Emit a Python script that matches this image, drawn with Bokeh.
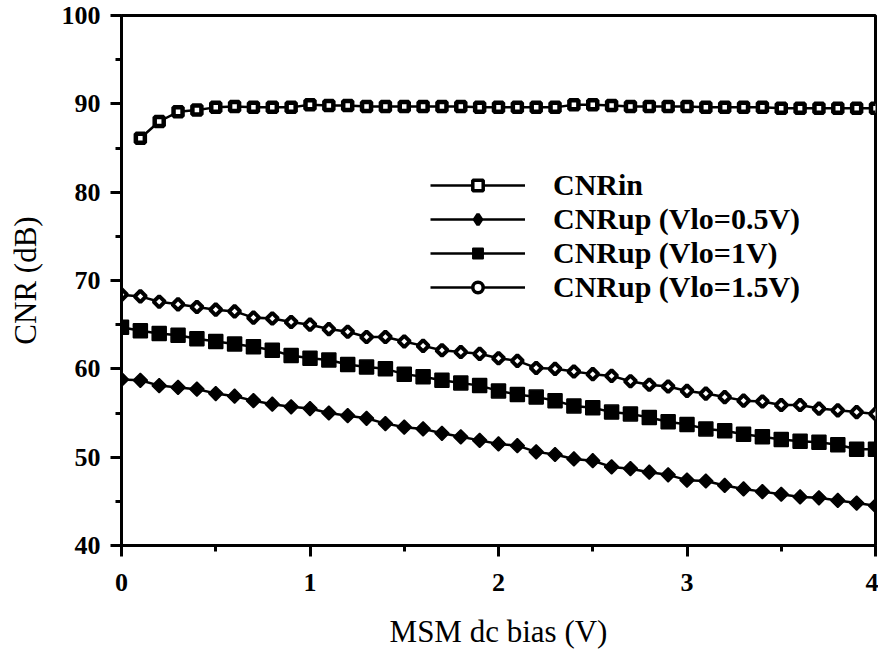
from bokeh.plotting import figure
from bokeh.models import Legend, LegendItem, FixedTicker, Range1d
from bokeh.embed import file_html
from bokeh.resources import INLINE

# ---- data ----
bias = [0.0, 0.1, 0.2, 0.3, 0.4, 0.5, 0.6, 0.7, 0.8, 0.9,
        1.0, 1.1, 1.2, 1.3, 1.4, 1.5, 1.6, 1.7, 1.8, 1.9,
        2.0, 2.1, 2.2, 2.3, 2.4, 2.5, 2.6, 2.7, 2.8, 2.9,
        3.0, 3.1, 3.2, 3.3, 3.4, 3.5, 3.6, 3.7, 3.8, 3.9, 4.0]

bias_in = bias[1:]
cnr_in = [86.1, 88.0, 89.1, 89.3, 89.6, 89.7, 89.6, 89.6, 89.6, 89.9,
          89.8, 89.8, 89.7, 89.7, 89.7, 89.7, 89.7, 89.7, 89.6, 89.6,
          89.6, 89.6, 89.6, 89.9, 89.9, 89.8, 89.7, 89.7, 89.7, 89.7,
          89.6, 89.6, 89.6, 89.6, 89.5, 89.5, 89.5, 89.5, 89.5, 89.5]

cnr_up_05 = [58.8, 58.7, 58.1, 57.9, 57.7, 57.2, 56.9, 56.4, 56.0, 55.7,
             55.5, 55.0, 54.7, 54.4, 53.8, 53.4, 53.2, 52.7, 52.3, 51.9,
             51.5, 51.3, 50.6, 50.3, 49.8, 49.6, 48.9, 48.7, 48.3, 48.0,
             47.4, 47.3, 46.8, 46.4, 46.1, 45.8, 45.5, 45.4, 45.1, 44.8, 44.5]

cnr_up_10 = [64.7, 64.3, 64.0, 63.8, 63.4, 63.1, 62.8, 62.5, 62.1, 61.5,
             61.2, 61.0, 60.5, 60.2, 60.0, 59.4, 59.1, 58.7, 58.4, 58.1,
             57.5, 57.1, 56.8, 56.4, 55.8, 55.6, 55.1, 54.9, 54.5, 54.0,
             53.7, 53.2, 53.0, 52.6, 52.3, 52.0, 51.8, 51.7, 51.4, 50.9, 50.9]

cnr_up_15 = [68.4, 68.2, 67.6, 67.3, 67.0, 66.7, 66.5, 65.8, 65.7, 65.3,
             65.0, 64.5, 64.2, 63.6, 63.6, 63.1, 62.6, 62.1, 61.9, 61.7,
             61.2, 60.9, 60.1, 60.0, 59.7, 59.4, 59.2, 58.6, 58.2, 58.0,
             57.5, 57.2, 56.8, 56.4, 56.3, 55.9, 55.9, 55.5, 55.3, 55.1, 54.9]

labels = ["CNRin", "CNRup (Vlo=0.5V)", "CNRup (Vlo=1V)", "CNRup (Vlo=1.5V)"]
x_ticks = [0, 1, 2, 3, 4]
x_minor = [0.5, 1.5, 2.5, 3.5]
y_ticks = [40, 50, 60, 70, 80, 90, 100]
y_minor = [45, 55, 65, 75, 85, 95]

SERIF = "Liberation Serif"

p = figure(width=878, height=652, x_range=Range1d(0, 4), y_range=Range1d(40, 100),
           output_backend="svg", toolbar_location=None,
           min_border_left=121, min_border_right=3, min_border_top=15, min_border_bottom=107,
           x_axis_label="MSM dc bias (V)", y_axis_label="CNR (dB)")

p.grid.visible = False
p.outline_line_color = "black"
p.outline_line_width = 3
p.background_fill_color = "white"
p.border_fill_color = "white"

p.xaxis.ticker = FixedTicker(ticks=x_ticks, minor_ticks=x_minor)
p.yaxis.ticker = FixedTicker(ticks=y_ticks, minor_ticks=y_minor)
for ax in (p.xaxis[0], p.yaxis[0]):
    ax.axis_line_width = 3
    ax.major_tick_line_width = 3
    ax.minor_tick_line_width = 3
    ax.major_tick_in = 0
    ax.major_tick_out = 11
    ax.minor_tick_in = 0
    ax.minor_tick_out = 6
    ax.major_label_text_font = SERIF
    ax.major_label_text_font_style = "bold"
    ax.major_label_text_font_size = "26px"
    ax.major_label_text_color = "black"
    ax.axis_label_text_font = SERIF
    ax.axis_label_text_font_style = "normal"
    ax.axis_label_text_font_size = "31px"
    ax.axis_label_text_color = "black"
p.xaxis.major_label_standoff = 17
p.xaxis.axis_label_standoff = 20
p.yaxis.major_label_standoff = 10
p.yaxis.axis_label_standoff = 16

LW = 2.5

# legend-proxy markers: tiny, drawn first and covered by the real markers
g_in = p.scatter(bias_in, cnr_in, marker="square", size=1, fill_color="white",
                 line_color="black", line_width=3.5)
g_05 = p.scatter(bias, cnr_up_05, marker="diamond", size=1, fill_color="black",
                 line_color="black", line_width=3.5)
g_10 = p.scatter(bias, cnr_up_10, marker="square", size=1, fill_color="black",
                 line_color="black", line_width=1.5)
g_15 = p.scatter(bias, cnr_up_15, marker="circle", size=1, fill_color="white",
                 line_color="black", line_width=3.5)

# CNRin
l_in = p.line(bias_in, cnr_in, line_color="black", line_width=LW)
p.scatter(bias_in, cnr_in, marker="square", size=9, fill_color="white",
          line_color="black", line_width=4.5)

# CNRup Vlo=0.5V (filled diamonds)
l_05 = p.line(bias, cnr_up_05, line_color="black", line_width=LW)
p.scatter(bias, cnr_up_05, marker="square", angle=0.785398, size=10,
          fill_color="black", line_color="black", line_width=1.5)

# CNRup Vlo=1V (filled squares)
l_10 = p.line(bias, cnr_up_10, line_color="black", line_width=LW)
p.scatter(bias, cnr_up_10, marker="square", size=14,
          fill_color="black", line_color="black", line_width=1.5)

# CNRup Vlo=1.5V (open diamonds with white centre)
l_15 = p.line(bias, cnr_up_15, line_color="black", line_width=LW)
p.scatter(bias, cnr_up_15, marker="square", angle=0.785398, size=8,
          fill_color="white", line_color="black", line_width=4)

legend = Legend(items=[LegendItem(label=labels[0], renderers=[l_in, g_in]),
                       LegendItem(label=labels[1], renderers=[l_05, g_05]),
                       LegendItem(label=labels[2], renderers=[l_10, g_10]),
                       LegendItem(label=labels[3], renderers=[l_15, g_15])],
                location=(309, 241), orientation="vertical")
legend.padding = 0
legend.margin = 0
legend.spacing = 0
legend.glyph_width = 95
legend.glyph_height = 26
legend.label_height = 34
legend.label_standoff = 28
legend.label_text_font = SERIF
legend.label_text_font_style = "bold"
legend.label_text_font_size = "30px"
legend.label_text_color = "black"
legend.label_text_baseline = "middle"
legend.border_line_alpha = 0
legend.background_fill_alpha = 0
p.add_layout(legend, "center")

open("out.html", "w").write(file_html(p, INLINE))
